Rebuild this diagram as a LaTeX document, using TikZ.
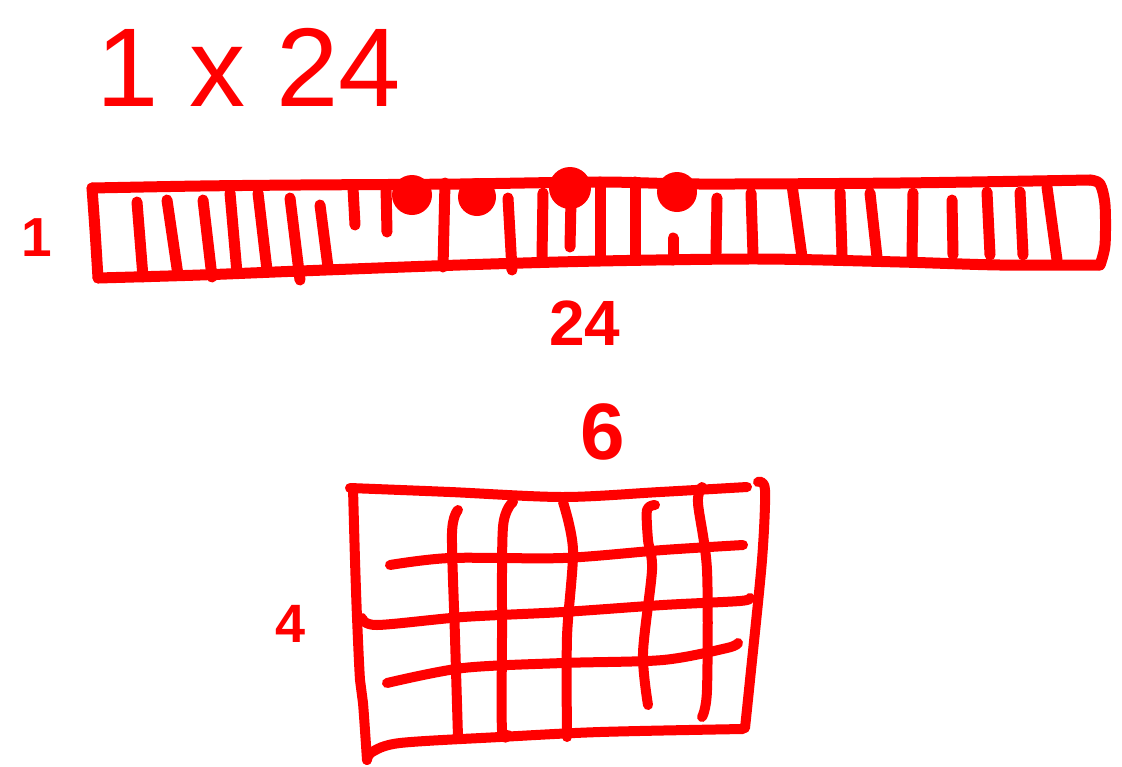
\documentclass[tikz,border=0pt]{standalone}
\usepackage{fontspec}
\setmainfont{Liberation Sans}
\begin{document}
\begin{tikzpicture}[x=1pt,y=-1pt,
  pen/.style={draw=red,line width=11pt,line cap=round,line join=round},
  thin pen/.style={draw=red,line width=10pt,line cap=round,line join=round},
  dot/.style={fill=red},
  lab/.style={text=red,inner sep=0pt},
  small lab/.style={lab,font=\bfseries}]
\useasboundingbox (0,0) rectangle (1122,766);
% texts
\node[lab,anchor=base west,font=\fontsize{112}{112}\selectfont] (title) at (96,106) {1 x 24};
\node[small lab,font=\bfseries\fontsize{55}{55}\selectfont] (lab1) at (37,238) {1};
\node[small lab,font=\bfseries\fontsize{64}{64}\selectfont] (lab24) at (585,323) {24};
\node[small lab,font=\bfseries\fontsize{80}{80}\selectfont] (lab6) at (603,432) {6};
\node[small lab,font=\bfseries\fontsize{54}{54}\selectfont] (lab4) at (291,624) {4};
% strip outline
\draw[pen] plot[smooth] coordinates {(92,188) (200,186) (300,185) (460,184) (600,182) (700,184) (900,183) (1090,180)};
\draw[pen] plot[smooth] coordinates {(98,278) (200,275) (300,271) (460,265) (600,261) (760,259) (900,262) (1000,265) (1100,265)};
\draw[pen] plot[smooth] coordinates {(92,188) (95,230) (98,278)};
\draw[pen] plot[smooth] coordinates {(1090,180) (1100,184) (1105,205) (1105,245) (1100,265)};
% strip dividers
\foreach \xa/\ya/\xb/\yb in {137/202/143/277, 167/200/178/275, 203/200/212/277, 230/193/237/273,
  258/193/267/270, 290/198/300/280, 320/205/328/267, 353/188/355/225, 386/187/387/232,
  445/183/443/267, 508/198/512/270, 543/193/542/257, 571/200/570/247, 600/182/600/257,
  635/182/635/257, 673/238/673/260, 717/198/716/253, 751/193/753/255, 792/185/802/257,
  840/192/842/255, 870/193/877/257, 913/193/912/258, 952/200/953/255, 987/192/990/255,
  1020/192/1023/255, 1047/187/1057/260}
  \draw[pen] (\xa,\ya) -- (\xb,\yb);
% dots
\fill[dot] (412,195) circle (20);
\fill[dot] (477,197) circle (19);
\fill[dot] (570,188) circle (21);
\fill[dot] (677,192) circle (20);
% grid outline
\draw[thin pen] plot[smooth] coordinates {(350,488) (450,492) (563,497) (660,492) (747,487)};
\draw[thin pen] plot[smooth] coordinates {(758,482) (765,490) (762,560) (750,680) (745,728)};
\draw[thin pen] plot[smooth] coordinates {(743,729) (600,732) (500,737) (400,743) (372,752) (367,760)};
\draw[thin pen] plot[smooth] coordinates {(353,488) (355,560) (357,617) (360,680) (363,703) (367,760)};
% grid verticals
\draw[thin pen] plot[smooth] coordinates {(458,510) (452,533) (455,637) (458,737)};
\draw[thin pen] plot[smooth] coordinates {(513,502) (503,527) (502,637) (502,730) (508,735)};
\draw[thin pen] plot[smooth] coordinates {(563,502) (573,550) (567,637) (567,737)};
\draw[thin pen] plot[smooth] coordinates {(655,505) (647,510) (648,540) (652,570) (643,653) (648,705)};
\draw[thin pen] plot[smooth] coordinates {(702,487) (698,503) (707,570) (707,690) (702,717)};
% grid horizontals
\draw[thin pen] plot[smooth] coordinates {(390,565) (450,558) (563,558) (663,550) (743,545)};
\draw[thin pen] plot[smooth] coordinates {(362,618) (377,625) (463,617) (563,612) (663,605) (740,601) (750,598)};
\draw[thin pen] plot[smooth] coordinates {(387,683) (463,668) (563,663) (663,660) (727,648) (738,643)};
\end{tikzpicture}
\end{document}
